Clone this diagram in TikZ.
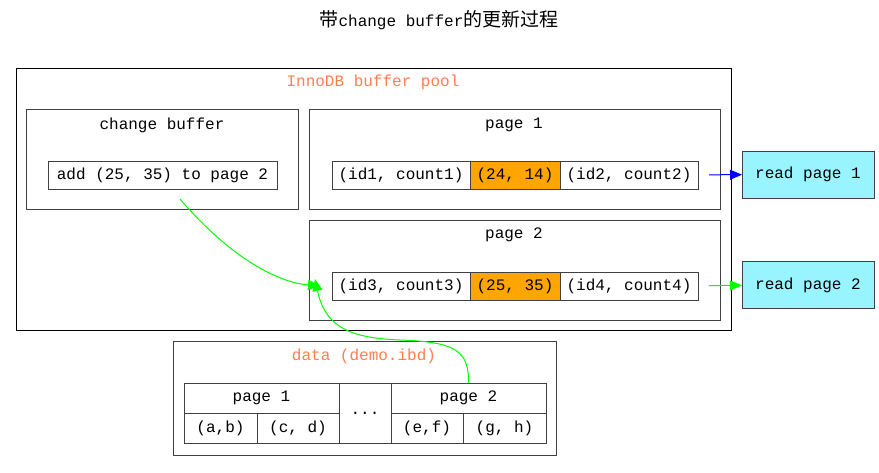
\documentclass[tikz,border=0pt]{standalone}
\usepackage{fontspec}
\setmainfont{Liberation Mono}
\newfontfamily\cjk{Noto Sans CJK SC}
\usetikzlibrary{arrows.meta}
\definecolor{coral}{HTML}{FF7F50}
\definecolor{orangefill}{HTML}{FFA500}
\definecolor{cyanfill}{HTML}{98F5FF}
\definecolor{lime}{HTML}{00FF00}
\definecolor{edgegray}{HTML}{404040}
\begin{document}
\begin{tikzpicture}[x=1pt,y=-1pt,
  every node/.style={font=\fontsize{16}{16}\selectfont, inner sep=0pt, outer sep=0pt},
  cluster/.style={draw=edgegray, line width=1pt, rectangle, anchor=north west},
  outercluster/.style={draw=black, line width=1pt, rectangle, anchor=north west},
  cell/.style={draw=edgegray, line width=1pt, rectangle, anchor=north west, fill=white},
  hot/.style={cell, fill=orangefill},
  readbox/.style={draw=edgegray, line width=1pt, fill=cyanfill, rectangle, minimum width=132pt, minimum height=47pt},
  lbl/.style={text=coral},
  arr/.style={line width=1pt, -{Triangle[length=12pt,width=10pt]}}
]
\useasboundingbox (0,0) rectangle (879,472);
\fill[white] (0,0) rectangle (879,472);

% title
\node (title) at (439,20) {{\fontsize{19}{19}\cjk 带}change buffer{\fontsize{19}{19}\cjk 的更新过程}};

% InnoDB buffer pool
\node[outercluster, minimum width=715pt, minimum height=262pt] (pool) at (16,68) {};
\node[lbl] (poollbl) at (373,82) {InnoDB buffer pool};

% change buffer
\node[cluster, minimum width=272pt, minimum height=100pt] (cb) at (26,109) {};
\node (cblbl) at (162,125) {change buffer};
\node[cell, minimum width=229pt, minimum height=28pt] (add) at (48,161) {add (25, 35) to page 2};

% page 1
\node[cluster, minimum width=411pt, minimum height=100pt] (p1) at (309,109) {};
\node (p1lbl) at (514,125) {page 1};
\node[cell, minimum width=138pt, minimum height=28pt] (c11) at (332,161) {(id1, count1)};
\node[hot, minimum width=90pt, minimum height=28pt] (c12) at (470,161) {(24, 14)};
\node[cell, minimum width=138pt, minimum height=28pt] (c13) at (560,161) {(id2, count2)};

% page 2
\node[cluster, minimum width=411pt, minimum height=100pt] (p2) at (309,220) {};
\node (p2lbl) at (514,235) {page 2};
\node[cell, minimum width=138pt, minimum height=28pt] (c21) at (332,272) {(id3, count3)};
\node[hot, minimum width=90pt, minimum height=28pt] (c22) at (470,272) {(25, 35)};
\node[cell, minimum width=138pt, minimum height=28pt] (c23) at (560,272) {(id4, count4)};

% read nodes
\node[readbox] (rp1) at (808,174.5) {read page 1};
\node[readbox] (rp2) at (808,285) {read page 2};

% data cluster
\node[cluster, minimum width=383pt, minimum height=114pt] (data) at (173,341) {};
\node[lbl] (datalbl) at (364,356) {data (demo.ibd)};
\node[cell, minimum width=155pt, minimum height=30pt] (dh1) at (184,383) {page 1};
\node[cell, minimum width=52pt, minimum height=60pt] (ddots) at (339,383) {...};
\node[cell, minimum width=155pt, minimum height=30pt] (dh2) at (391,383) {page 2};
\node[cell, minimum width=73pt, minimum height=30pt] (d11) at (184,413) {(a,b)};
\node[cell, minimum width=82pt, minimum height=30pt] (d12) at (257,413) {(c, d)};
\node[cell, minimum width=72pt, minimum height=30pt] (d21) at (391,413) {(e,f)};
\node[cell, minimum width=83pt, minimum height=30pt] (d22) at (463,413) {(g, h)};

% edges
\draw[arr, blue, shorten <=11pt] (c13) -- (rp1);
\draw[arr, lime, shorten <=11pt] (c23) -- (rp2);

\coordinate (g1s) at (180,199);
\draw[arr, lime] (g1s) .. controls (228,255) and (275,282) .. ([xshift=-12pt,yshift=0pt]c21.west);
\draw[arr, lime] (dh2.north) .. controls (469,350) and (455,342) .. (400,340)
   .. controls (348,338) and (325,326) .. ([xshift=-17pt,yshift=7pt]c21.west);
\end{tikzpicture}
\end{document}
